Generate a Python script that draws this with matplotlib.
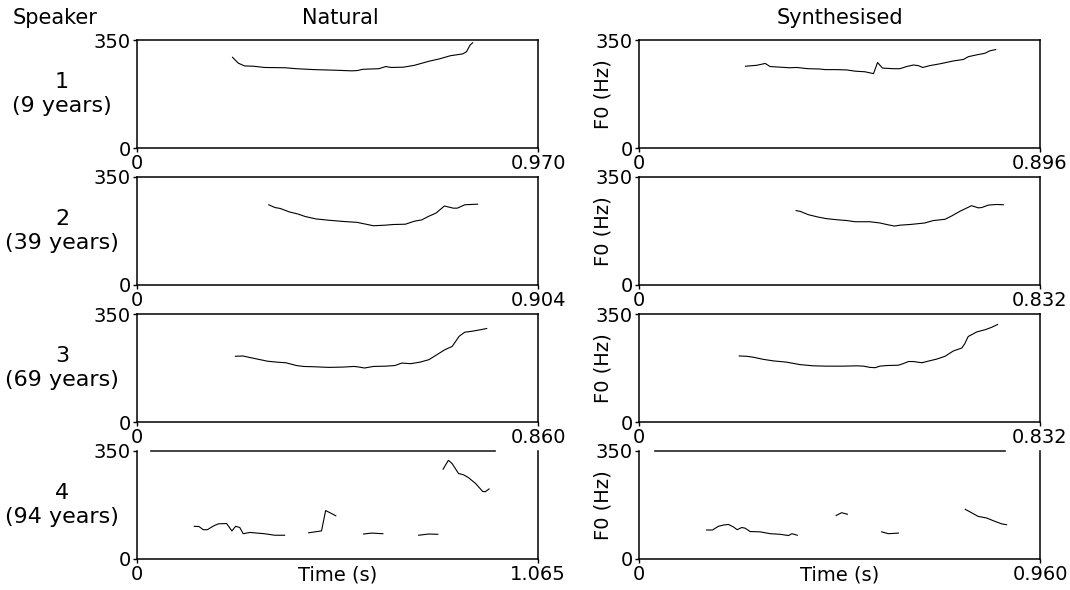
import numpy as np
import matplotlib
matplotlib.use('Agg')
import matplotlib.pyplot as plt

nan = np.nan

# speaker labels and durations (s)
speakers = ['1\n(9 years)', '2\n(39 years)', '3\n(69 years)', '4\n(94 years)']
dur_nat = [0.970, 0.904, 0.860, 1.065]
dur_syn = [0.896, 0.832, 0.832, 0.960]

# F0 contours (time s, F0 Hz), nan = unvoiced gap
nat1_t = [0.231, 0.245, 0.260, 0.282, 0.308, 0.359, 0.385, 0.429, 0.481, 0.520, 0.533, 0.546,
          0.585, 0.602, 0.615, 0.645, 0.671, 0.706, 0.732, 0.758, 0.788, 0.797, 0.806, 0.812]
nat1_f = [294, 275, 266, 265, 261, 260, 257, 254, 252, 250, 251, 255,
          257, 264, 261, 262, 268, 281, 289, 299, 305, 312, 334, 341]

syn1_t = [0.238, 0.263, 0.282, 0.293, 0.315, 0.337, 0.352, 0.378, 0.404, 0.416, 0.442, 0.464,
          0.483, 0.505, 0.524, 0.533, 0.544, 0.568, 0.583, 0.598, 0.613, 0.624, 0.634, 0.650,
          0.673, 0.702, 0.725, 0.736, 0.755, 0.773, 0.784, 0.797]
syn1_f = [265, 268, 274, 264, 262, 260, 261, 257, 256, 254, 254, 253,
          249, 247, 241, 277, 259, 257, 257, 264, 269, 267, 261, 267,
          273, 282, 287, 296, 302, 307, 315, 319]

nat2_t = [0.297, 0.311, 0.323, 0.343, 0.363, 0.379, 0.404, 0.432, 0.464, 0.496, 0.513, 0.533,
          0.561, 0.577, 0.605, 0.626, 0.642, 0.658, 0.674, 0.693, 0.713, 0.722, 0.739, 0.768]
nat2_f = [260, 251, 248, 237, 230, 222, 214, 210, 206, 203, 198, 192,
          194, 196, 197, 207, 211, 223, 233, 256, 249, 249, 260, 262]

syn2_t = [0.326, 0.334, 0.351, 0.372, 0.389, 0.414, 0.431, 0.448, 0.479, 0.500, 0.514, 0.530,
          0.542, 0.562, 0.593, 0.611, 0.635, 0.649, 0.666, 0.690, 0.704, 0.711, 0.725, 0.742, 0.756]
syn2_f = [241, 239, 228, 220, 215, 211, 209, 205, 205, 201, 196, 191,
          194, 196, 201, 209, 213, 224, 239, 257, 250, 251, 259, 261, 260]

nat3_t = [0.211, 0.227, 0.242, 0.261, 0.280, 0.300, 0.319, 0.342, 0.357, 0.380, 0.411, 0.442,
          0.465, 0.472, 0.488, 0.507, 0.534, 0.553, 0.568, 0.587, 0.607, 0.626, 0.641, 0.660,
          0.676, 0.691, 0.703, 0.718, 0.733, 0.750]
nat3_f = [213, 214, 209, 203, 197, 194, 192, 183, 180, 179, 177, 178,
          180, 179, 175, 180, 181, 183, 191, 189, 194, 202, 216, 234,
          245, 278, 291, 294, 298, 303]

syn3_t = [0.208, 0.223, 0.237, 0.258, 0.279, 0.306, 0.334, 0.362, 0.389, 0.424, 0.452, 0.466,
          0.479, 0.490, 0.500, 0.514, 0.538, 0.548, 0.559, 0.569, 0.587, 0.597, 0.618, 0.635,
          0.652, 0.670, 0.676, 0.683, 0.701, 0.718, 0.732, 0.744]
syn3_f = [214, 213, 210, 203, 198, 194, 186, 182, 181, 181, 182, 181,
          177, 176, 181, 183, 184, 189, 196, 196, 192, 196, 204, 213,
          230, 240, 254, 277, 292, 299, 307, 316]

nat4_t = [0.152, 0.165, 0.176, 0.187, 0.203, 0.216, 0.238, 0.252, 0.262, 0.273, 0.282, 0.300,
          0.338, 0.366, 0.392, nan,
          0.456, 0.490, 0.501, 0.514, 0.528, nan,
          0.602, 0.623, 0.653, nan,
          0.748, 0.775, 0.799, nan,
          0.813, 0.827, 0.837, 0.854, 0.867, 0.880, 0.899, 0.918, 0.925, 0.935]
nat4_f = [106, 105, 95, 95, 107, 114, 115, 91, 106, 102, 82, 86,
          82, 77, 77, nan,
          85, 91, 157, 149, 140, nan,
          81, 84, 82, nan,
          77, 81, 80, nan,
          291, 320, 309, 277, 273, 264, 245, 219, 218, 227]
nat4_top_t = [0.038, 0.951]
nat4_top_f = [350, 350]

syn4_t = [0.162, 0.176, 0.190, 0.202, 0.214, 0.226, 0.235, 0.246, 0.254, 0.266, 0.290, 0.314,
          0.338, 0.358, 0.366, 0.379, nan,
          0.472, 0.485, 0.499, nan,
          0.581, 0.597, 0.621, nan,
          0.781, 0.792, 0.812, 0.832, 0.852, 0.868, 0.880]
syn4_f = [94, 94, 106, 110, 112, 104, 95, 102, 100, 89, 88, 82,
          80, 76, 82, 77, nan,
          141, 150, 145, nan,
          88, 82, 84, nan,
          161, 153, 138, 133, 122, 114, 111]
syn4_top_t = [0.038, 0.876]
syn4_top_f = [350, 350]

nat = [(nat1_t, nat1_f), (nat2_t, nat2_f), (nat3_t, nat3_f), (nat4_t, nat4_f)]
syn = [(syn1_t, syn1_f), (syn2_t, syn2_f), (syn3_t, syn3_f), (syn4_t, syn4_f)]

W, H = 1070, 590
fig = plt.figure(figsize=(W / 100, H / 100), dpi=100)

col_left = [137, 639]
ax_w, ax_h = 401, 108
row_top = [40, 177, 314, 451]

for r in range(4):
    for c in range(2):
        ax = fig.add_axes([col_left[c] / W, 1 - (row_top[r] + ax_h) / H, ax_w / W, ax_h / H])
        t, f = (nat if c == 0 else syn)[r]
        dur = (dur_nat if c == 0 else dur_syn)[r]
        ax.plot(t, f, color='black', lw=0.8)
        ax.set_xlim(0, dur)
        ax.set_ylim(0, 350)
        ax.set_xticks([0, dur])
        ax.set_xticklabels(['0', f'{dur:.3f}'])
        ax.set_yticks([0, 350])
        ax.set_yticklabels(['0', '350'])
        ax.tick_params(labelsize=14, length=3, width=1, pad=1.5, colors='black')
        for s in ax.spines.values():
            s.set_linewidth(1.1)
        if r == 3:
            ax.spines['top'].set_visible(False)
            tt, ff = (nat4_top_t, nat4_top_f) if c == 0 else (syn4_top_t, syn4_top_f)
            ax.plot(tt, ff, color='#222222', lw=1.2, clip_on=False)
            ax.set_xlabel('Time (s)', fontsize=14)
            ax.xaxis.set_label_coords(0.5, -0.06)
        if c == 1:
            ax.set_ylabel('F0 (Hz)', fontsize=14)
            ax.yaxis.set_label_coords(-0.066, 0.5)

for r in range(4):
    yc = 1 - (row_top[r] + ax_h / 2) / H
    fig.text(62 / W, yc, speakers[r], fontsize=16, ha='center', va='center', linespacing=1.25)

fig.text(55 / W, 1 - 18 / H, 'Speaker', fontsize=15, ha='center', va='center')
fig.text(340 / W, 1 - 18 / H, 'Natural', fontsize=15, ha='center', va='center')
fig.text(840 / W, 1 - 18 / H, 'Synthesised', fontsize=15, ha='center', va='center')

fig.savefig('out.png', dpi=100)
